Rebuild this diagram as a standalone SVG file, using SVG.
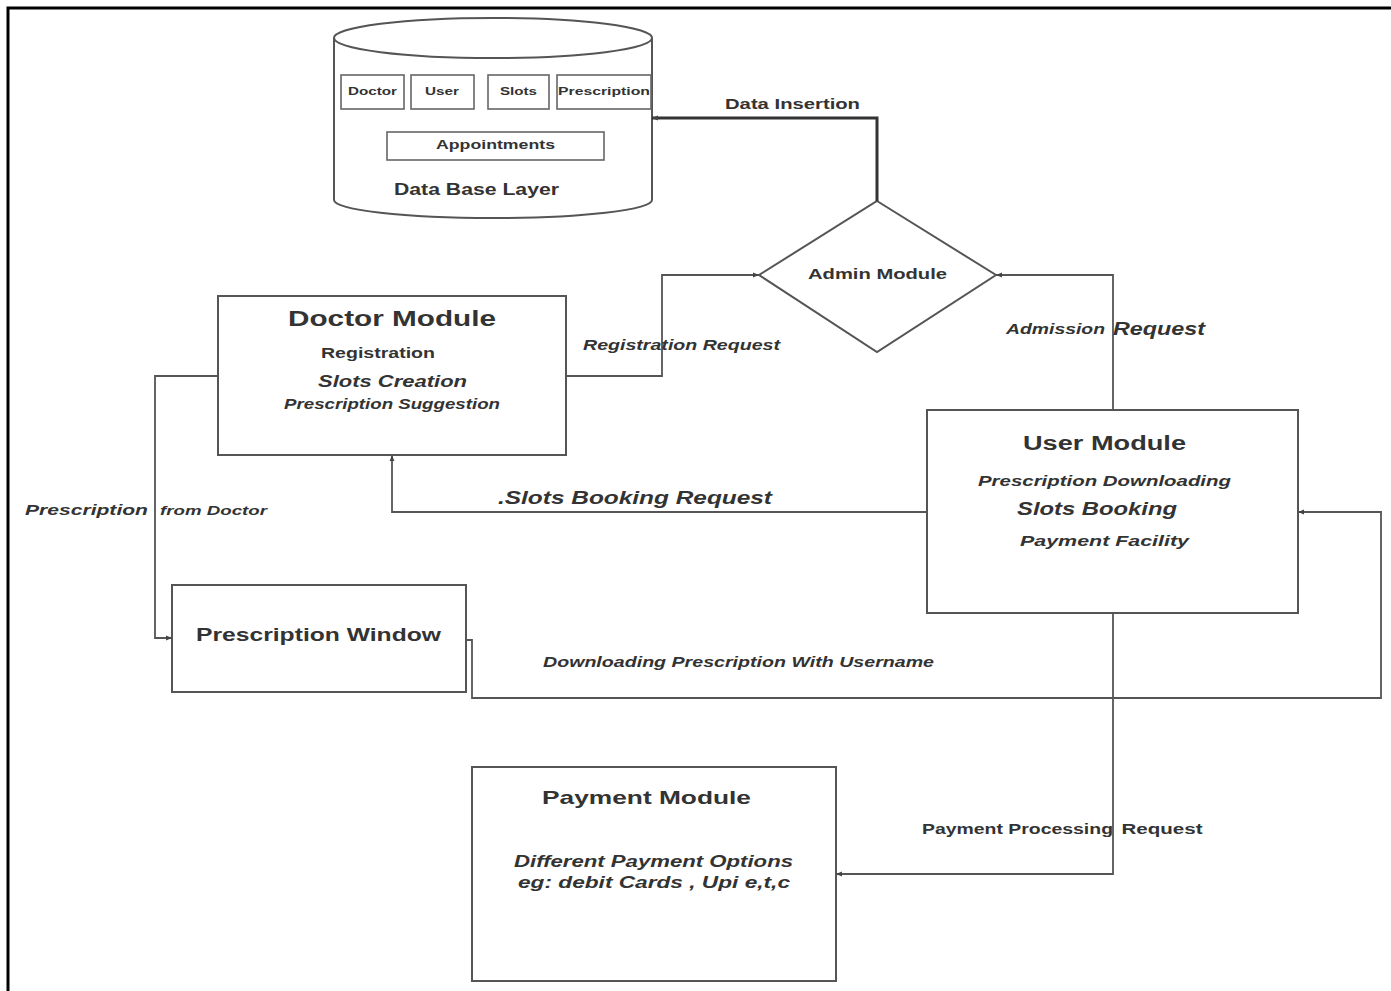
<svg xmlns="http://www.w3.org/2000/svg" width="1391" height="991" viewBox="0 0 1391 991">
<style>
.box{fill:#fff;stroke:#555;stroke-width:2}
.sm{fill:#fff;stroke:#666;stroke-width:1.6}
.ln{fill:none;stroke:#555;stroke-width:1.8}
text{font-family:"Liberation Sans",Arial,sans-serif;fill:#333;text-anchor:middle}
.b{font-weight:bold}
.i{font-style:italic;font-weight:bold}
</style>
<defs>
<marker id="ah" viewBox="0 0 10 10" refX="10" refY="5" markerWidth="6" markerHeight="6" orient="auto" markerUnits="userSpaceOnUse">
<path d="M0,1 L10,5 L0,9 z" fill="#444"/>
</marker>
</defs>
<rect width="1391" height="991" fill="#fff"/>
<path d="M8,991 V8 H1391" fill="none" stroke="#000" stroke-width="3"/>

<g id="database">
<path d="M334,38 V200 A159,18 0 0 0 652,200 V38" class="box"/>
<ellipse cx="493" cy="38" rx="159" ry="20" class="box"/>
<rect x="341" y="75" width="63" height="34" class="sm"/>
<text x="372.5" y="95" font-size="11" class="b" fill="#555" textLength="49" lengthAdjust="spacingAndGlyphs">Doctor</text>
<rect x="411" y="75" width="63" height="34" class="sm"/>
<text x="442" y="95" font-size="11" class="b" fill="#555" textLength="34" lengthAdjust="spacingAndGlyphs">User</text>
<rect x="488" y="75" width="61" height="34" class="sm"/>
<text x="518.5" y="95" font-size="11" class="b" fill="#555" textLength="37" lengthAdjust="spacingAndGlyphs">Slots</text>
<rect x="557" y="75" width="94" height="34" class="sm"/>
<text x="604" y="95" font-size="11" class="b" fill="#555" textLength="92" lengthAdjust="spacingAndGlyphs">Prescription</text>
<rect x="387" y="132" width="217" height="28" class="sm"/>
<text x="495.5" y="149" font-size="13" class="b" fill="#444" textLength="119" lengthAdjust="spacingAndGlyphs">Appointments</text>
<text x="476.5" y="195" font-size="16" class="b" textLength="165" lengthAdjust="spacingAndGlyphs">Data Base Layer</text>
</g>

<g id="admin">
<polygon points="877,201 996,275 877,352 759,275" class="box"/>
<text x="877.5" y="279" font-size="15" class="b" fill="#444" textLength="139" lengthAdjust="spacingAndGlyphs">Admin Module</text>
</g>

<g id="doctor">
<rect x="218" y="296" width="348" height="159" class="box"/>
<text x="392" y="326" font-size="22" class="b" textLength="208" lengthAdjust="spacingAndGlyphs">Doctor Module</text>
<text x="378" y="358" font-size="14" class="b" fill="#444" textLength="114" lengthAdjust="spacingAndGlyphs">Registration</text>
<text x="392.5" y="387" font-size="17" class="i" textLength="149" lengthAdjust="spacingAndGlyphs">Slots Creation</text>
<text x="392" y="409" font-size="14" class="i" textLength="216" lengthAdjust="spacingAndGlyphs">Prescription Suggestion</text>
</g>

<g id="user">
<rect x="927" y="410" width="371" height="203" class="box"/>
<text x="1104.5" y="450" font-size="20" class="b" fill="#555" textLength="163" lengthAdjust="spacingAndGlyphs">User Module</text>
<text x="1104.5" y="486" font-size="14" class="i" textLength="253" lengthAdjust="spacingAndGlyphs">Prescription Downloading</text>
<text x="1097" y="515" font-size="18" class="i" textLength="160" lengthAdjust="spacingAndGlyphs">Slots Booking</text>
<text x="1104.5" y="546" font-size="15" class="i" textLength="169" lengthAdjust="spacingAndGlyphs">Payment Facility</text>
</g>

<g id="prescription-window">
<rect x="172" y="585" width="294" height="107" class="box"/>
<text x="318.5" y="641" font-size="18" class="b" textLength="245" lengthAdjust="spacingAndGlyphs">Prescription Window</text>
</g>

<g id="payment">
<rect x="472" y="767" width="364" height="214" class="box"/>
<text x="646.5" y="804" font-size="19" class="b" textLength="209" lengthAdjust="spacingAndGlyphs">Payment Module</text>
<text x="653.5" y="867" font-size="16" class="i" textLength="279" lengthAdjust="spacingAndGlyphs">Different Payment Options</text>
<text x="654" y="888" font-size="16" class="i" textLength="272" lengthAdjust="spacingAndGlyphs">eg: debit Cards , Upi  e,t,c</text>
</g>

<g id="connectors">
<path d="M877,201 V118 H652" fill="none" stroke="#333" stroke-width="3" marker-end="url(#ah)"/>
<path d="M566,376 H662 V275 H759" class="ln" marker-end="url(#ah)"/>
<path d="M1113,410 V275 H996" class="ln" marker-end="url(#ah)"/>
<path d="M927,512 H392 V455" class="ln" marker-end="url(#ah)"/>
<path d="M218,376 H155 V638 H172" class="ln" marker-end="url(#ah)"/>
<path d="M466,640 H472 V698 H1381 V512 H1298" class="ln" marker-end="url(#ah)"/>
<path d="M1113,613 V874 H836" class="ln" marker-end="url(#ah)"/>
</g>

<g id="labels">
<text x="792.5" y="109" font-size="15" class="b" fill="#444" textLength="135" lengthAdjust="spacingAndGlyphs">Data Insertion</text>
<text x="681.5" y="350" font-size="14" class="i" textLength="197" lengthAdjust="spacingAndGlyphs">Registration Request</text>
<text x="1055.5" y="334" font-size="14" class="i" textLength="99" lengthAdjust="spacingAndGlyphs">Admission</text>
<text x="1159" y="335" font-size="18" class="i" textLength="92" lengthAdjust="spacingAndGlyphs">Request</text>
<text x="635" y="504" font-size="19" class="i" textLength="274" lengthAdjust="spacingAndGlyphs">.Slots Booking Request</text>
<text x="86.5" y="515" font-size="15" class="i" textLength="123" lengthAdjust="spacingAndGlyphs">Prescription</text>
<text x="213.5" y="515" font-size="13" class="i" textLength="107" lengthAdjust="spacingAndGlyphs">from Doctor</text>
<text x="738.5" y="667" font-size="14" class="i" textLength="391" lengthAdjust="spacingAndGlyphs">Downloading Prescription With Username</text>
<text x="1017.5" y="834" font-size="14" class="b" textLength="191" lengthAdjust="spacingAndGlyphs">Payment Processing</text>
<text x="1162" y="834" font-size="14" class="b" textLength="81" lengthAdjust="spacingAndGlyphs">Request</text>
</g>
</svg>
